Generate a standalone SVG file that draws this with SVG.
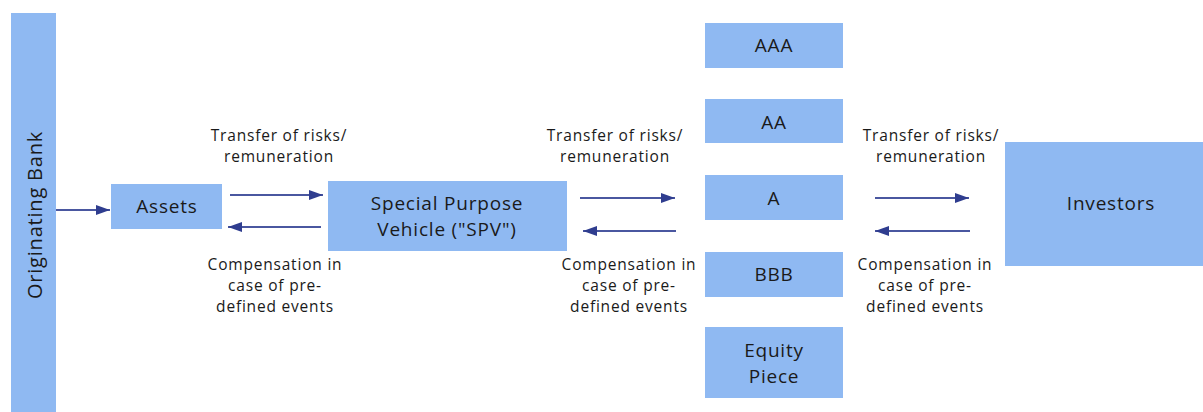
<svg xmlns="http://www.w3.org/2000/svg" width="1203" height="412" viewBox="0 0 1203 412">
<defs>
<marker id="ah" viewBox="0 0 14 10" refX="14" refY="5" markerWidth="14" markerHeight="10" markerUnits="userSpaceOnUse" orient="auto"><path d="M0,0 L14,5 L0,10 z" fill="#2f3d8f"/></marker>
<style>
.box{fill:#8fb9f2;}
.nt{font-family:"Open Sans","Liberation Sans",sans-serif;font-size:19px;letter-spacing:0.8px;fill:#1a1a1a;text-anchor:middle;}
.lt{font-family:"Open Sans","Liberation Sans",sans-serif;font-size:15.5px;letter-spacing:0.8px;fill:#1a1a1a;text-anchor:middle;}
.ar{stroke:#4a57a0;stroke-width:2;fill:none;marker-end:url(#ah);}
</style>
</defs>
<rect width="1203" height="412" fill="#ffffff"/>
<g id="bank"><rect class="box" x="11" y="13" width="45" height="399"/><text class="nt" style="font-size:20px" transform="translate(42,215) rotate(-90)">Originating Bank</text></g>
<g id="assets"><rect class="box" x="111" y="184" width="111" height="45"/><text class="nt" x="167" y="213">Assets</text></g>
<g id="spv"><rect class="box" x="328" y="181" width="239" height="70"/><text class="nt" x="447" y="210">Special Purpose</text><text class="nt" x="447" y="236">Vehicle ("SPV")</text></g>
<g id="aaa"><rect class="box" x="705" y="23" width="138" height="45"/><text class="nt" x="774" y="52">AAA</text></g>
<g id="aa"><rect class="box" x="705" y="99" width="138" height="44"/><text class="nt" x="774" y="129">AA</text></g>
<g id="a"><rect class="box" x="705" y="175" width="138" height="45"/><text class="nt" x="774" y="205">A</text></g>
<g id="bbb"><rect class="box" x="705" y="252" width="138" height="45"/><text class="nt" x="774" y="281">BBB</text></g>
<g id="equity"><rect class="box" x="705" y="327" width="138" height="71"/><text class="nt" x="774" y="357">Equity</text><text class="nt" x="774" y="383">Piece</text></g>
<g id="investors"><rect class="box" x="1005" y="142" width="198" height="124"/><text class="nt" x="1111" y="210">Investors</text></g>
<g id="connectors">
<line class="ar" x1="56" y1="210" x2="110" y2="210"/>
<line class="ar" x1="230" y1="195" x2="323" y2="195"/>
<line class="ar" x1="321" y1="227" x2="228" y2="227"/>
<line class="ar" x1="580" y1="198" x2="675" y2="198"/>
<line class="ar" x1="676" y1="231" x2="583" y2="231"/>
<line class="ar" x1="875" y1="198" x2="969" y2="198"/>
<line class="ar" x1="970" y1="231" x2="875" y2="231"/>
</g>
<g id="labels">
<text class="lt" x="279" y="141">Transfer of risks/</text><text class="lt" x="279" y="162">remuneration</text>
<text class="lt" x="275" y="270">Compensation in</text><text class="lt" x="275" y="291">case of pre-</text><text class="lt" x="275" y="312">defined events</text>
<text class="lt" x="615" y="141">Transfer of risks/</text><text class="lt" x="615" y="162">remuneration</text>
<text class="lt" x="629" y="270">Compensation in</text><text class="lt" x="629" y="291">case of pre-</text><text class="lt" x="629" y="312">defined events</text>
<text class="lt" x="931" y="141">Transfer of risks/</text><text class="lt" x="931" y="162">remuneration</text>
<text class="lt" x="925" y="270">Compensation in</text><text class="lt" x="925" y="291">case of pre-</text><text class="lt" x="925" y="312">defined events</text>
</g>
</svg>
